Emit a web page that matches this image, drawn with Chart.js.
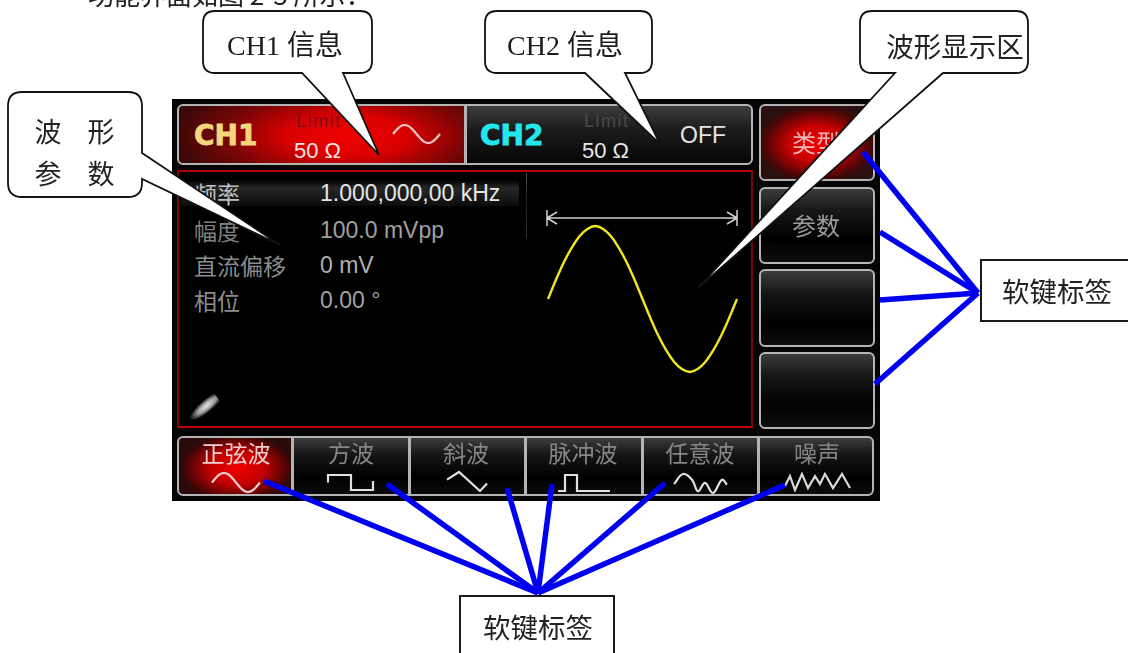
<!DOCTYPE html>
<html lang="zh-CN">
<head>
<meta charset="utf-8">
<title>功能界面</title>
<script src="https://cdn.jsdelivr.net/npm/chart.js@4"></script>
<style>
    html, body { margin: 0; padding: 0; background: #fff; }
    #page { position: relative; width: 1128px; height: 653px; overflow: hidden; background: #fff; }
    #page div, #page canvas, #page svg { position: absolute; }
    .text { white-space: pre; line-height: 1; transform: translate(0, -50%); }
    .center { transform: translate(-50%, -50%); }
    .cjk { font-family: "Noto Sans CJK SC", sans-serif; }
    .sans { font-family: "Liberation Sans", Arial, sans-serif; }
    .serif { font-family: "Liberation Serif", "Noto Sans CJK SC", serif; color: #1c1c1c; }
    #screen { left: 172px; top: 99px; width: 708px; height: 402px; background: #050505; filter: blur(0.7px); }
    .key { box-sizing: border-box; border: 2px solid #b4b4b4; border-radius: 6px;
           background: linear-gradient(180deg, #3c3c3c 0%, #161616 30%, #000 70%, #0c0c0c 100%); }
    .box { box-sizing: border-box; border: 2px solid #1a1a1a; background: #fff; }
</style>
</head>
<body>
<div id="page">
    <div id="screen"></div>
</div>
<script>
// 파형 데이터 (위상, mV)
const waveDegrees = [0, 15, 30, 45, 60, 75, 90, 105, 120, 135, 150, 165, 180, 195, 210, 225, 240, 255, 270, 285, 300, 315, 330, 345, 360];
const waveValues = [0, 13, 25, 35, 43, 48, 50, 48, 43, 35, 25, 13, 0, -13, -25, -35, -43, -48, -50, -48, -43, -35, -25, -13, 0];

// 화면 문자열
const paramLabels = ['频率', '幅度', '直流偏移', '相位'];
const paramValues = ['1.000,000,00 kHz', '100.0 mVpp', '0 mV', '0.00 °'];
const sideKeyLabels = ['类型', '参数', '', ''];
const bottomKeyLabels = ['正弦波', '方波', '斜波', '脉冲波', '任意波', '噪声'];

// 소프트키 아이콘 파형
const sineIconX = [0, 30, 60, 90, 120, 150, 180, 210, 240, 270, 300, 330, 360];
const sineIconY = [0, 50, 87, 100, 87, 50, 0, -50, -87, -100, -87, -50, 0];
const squareIconX = [0, 0, 23, 23, 45, 45];
const squareIconY = [0.5, 1, 1, 0, 0, 0.6];
const rampIconX = [0, 12, 33, 40];
const rampIconY = [0.6, 1, 0, 0.4];
const pulseIconX = [0, 7, 7, 19, 19, 52];
const pulseIconY = [0, 0, 1, 1, 0, 0];
const arbIconX = [0, 9, 18, 24, 31, 39, 48, 53];
const arbIconY = [0.47, 1, 0.7, 0.09, 0.53, 0, 0.7, 0.44];
const noiseIconX = [0, 5, 10, 17, 23, 30, 35, 40, 48, 57, 65];
const noiseIconY = [0.25, 0.87, 0, 1, 0.12, 0.87, 0.37, 1, 0.12, 1, 0.12];

const page = document.getElementById('page');
const screenEl = document.getElementById('screen');

// 페이지 좌표 기준으로 요소 추가 (screen 안에서는 원점 보정)
function addBlock(parent, className, x, y, w, h, background) {
    const el = document.createElement('div');
    const ox = parent === screenEl ? 172 : 0;
    const oy = parent === screenEl ? 99 : 0;
    el.className = className;
    el.style.left = (x - ox) + 'px';
    el.style.top = (y - oy) + 'px';
    el.style.width = w + 'px';
    el.style.height = h + 'px';
    if (background) {
        el.style.background = background;
    }
    parent.appendChild(el);
    return el;
}

function addText(parent, text, x, y, size, className, color, weight) {
    const el = document.createElement('div');
    const ox = parent === screenEl ? 172 : 0;
    const oy = parent === screenEl ? 99 : 0;
    el.className = 'text ' + className;
    el.textContent = text;
    el.style.left = (x - ox) + 'px';
    el.style.top = (y - oy) + 'px';
    el.style.fontSize = size + 'px';
    if (color) {
        el.style.color = color;
    }
    if (weight) {
        el.style.fontWeight = weight;
    }
    parent.appendChild(el);
    return el;
}

function addCanvas(parent, x, y, w, h) {
    const canvas = document.createElement('canvas');
    canvas.width = w;
    canvas.height = h;
    canvas.style.left = (x - 172) + 'px';
    canvas.style.top = (y - 99) + 'px';
    canvas.style.width = w + 'px';
    canvas.style.height = h + 'px';
    parent.appendChild(canvas);
    return canvas;
}

// 파형 차트 (축 숨김, 캔버스 전체가 플롯 영역)
function drawLineChart(canvas, xs, ys, bounds, color, width, tension) {
    return new Chart(canvas.getContext('2d'), {
        type: 'scatter',
        data: {
            datasets: [{
                data: xs.map((x, i) => ({ x: x, y: ys[i] })),
                showLine: true,
                borderColor: color,
                borderWidth: width,
                pointRadius: 0,
                tension: tension,
                clip: false
            }]
        },
        options: {
            responsive: false,
            animation: false,
            devicePixelRatio: 1,
            layout: { padding: 0 },
            plugins: { legend: { display: false }, tooltip: { enabled: false } },
            scales: {
                x: { type: 'linear', display: false, min: bounds[0], max: bounds[1] },
                y: { type: 'linear', display: false, min: bounds[2], max: bounds[3] }
            }
        }
    });
}

function drawIcon(x, y, w, h, xs, ys, color, tension) {
    const pad = 2;
    const canvas = addCanvas(screenEl, x - pad, y - pad, w + pad * 2, h + pad * 2);
    const minX = Math.min(...xs), maxX = Math.max(...xs);
    const minY = Math.min(...ys), maxY = Math.max(...ys);
    const padX = (maxX - minX) * pad / w;
    const padY = (maxY - minY) * pad / h;
    drawLineChart(canvas, xs, ys, [minX - padX, maxX + padX, minY - padY, maxY + padY], color, 2.2, tension);
}

// 상단 채널 표시줄
function buildHeader() {
    addBlock(screenEl, 'key', 177, 104, 289, 61,
        'radial-gradient(ellipse 175px 62px at 168px 30px, #f00000 0%, #d80000 35%, #7a0505 68%, #3a0808 100%)').style.borderRadius = '6px 0 0 6px';
    addBlock(screenEl, 'key', 465, 104, 288, 61,
        'linear-gradient(180deg, #3d3d3d 0%, #1c1c1c 40%, #060606 100%)').style.borderRadius = '0 6px 6px 0';
    const ch1 = addText(screenEl, 'CH1', 194, 136, 28, 'sans', '#f4d67c', 'bold');
    ch1.style.fontFamily = '"DejaVu Sans"';
    ch1.style.webkitTextStroke = '0.8px #f4d67c';
    const ch2 = addText(screenEl, 'CH2', 480, 136, 28, 'sans', '#22e8ee', 'bold');
    ch2.style.fontFamily = '"DejaVu Sans"';
    ch2.style.webkitTextStroke = '0.8px #22e8ee';
    addText(screenEl, 'Limit', 296, 121, 18, 'sans', '#7a0f1c').style.letterSpacing = '1.5px';
    addText(screenEl, 'Limit', 584, 121, 18, 'sans', '#4a4a4a').style.letterSpacing = '1.5px';
    addText(screenEl, '50 Ω', 294, 151, 22, 'sans', '#f5e4e4');
    addText(screenEl, '50 Ω', 582, 151, 22, 'sans', '#e6e6e6');
    addText(screenEl, 'OFF', 680, 135, 23, 'sans', '#e4e4e4');
    drawIcon(393, 125, 47, 18, sineIconX, sineIconY, '#eec4c4', 0.4);
}

// 파라미터와 파형 영역
function buildWavePanel() {
    const panel = addBlock(screenEl, '', 177, 170, 576, 258, '#000');
    panel.style.boxSizing = 'border-box';
    panel.style.border = '2px solid #7a0505';
    panel.style.borderTopColor = '#b00000';
    panel.style.borderBottomColor = '#c40000';
    addBlock(screenEl, '', 181, 180, 338, 26, 'linear-gradient(180deg, #000 0%, #262626 30%, #0c0c0c 100%)');
    addBlock(screenEl, '', 526, 173, 1, 66, 'linear-gradient(180deg, #555 0%, #222 40%, #333 100%)');

    const rowY = [193, 230, 265, 300];
    const labelColors = ['#c0c0c0', '#808080', '#8c8c8c', '#8c8c8c'];
    const valueColors = ['#e6e6e6', '#a0a0a0', '#b0b0b0', '#a0a0a0'];
    paramLabels.forEach((label, i) => {
        addText(screenEl, label, 194, rowY[i], 23, 'cjk', labelColors[i]);
        addText(screenEl, paramValues[i], 320, rowY[i], 23, 'sans', valueColors[i]);
    });

    // USB 표시 자국
    const smudge = addBlock(screenEl, '', 187, 402, 34, 12,
        'radial-gradient(ellipse at 60% 50%, #e8e8e8 0%, #9a9a9a 40%, rgba(60,60,60,0) 75%)');
    smudge.style.transform = 'rotate(-40deg)';

    // 파형 폭 표시
    const ns = 'http://www.w3.org/2000/svg';
    const svg = document.createElementNS(ns, 'svg');
    svg.setAttribute('width', '708');
    svg.setAttribute('height', '402');
    svg.style.left = '0';
    svg.style.top = '0';
    const bracket = document.createElementNS(ns, 'path');
    bracket.setAttribute('d', 'M375,111 V127 M375,119 H565 M565,111 V127 M375,119 L385,113 M375,119 L385,125 M565,119 L555,113 M565,119 L555,125');
    bracket.setAttribute('stroke', '#cfcfcf');
    bracket.setAttribute('stroke-width', '1.5');
    bracket.setAttribute('fill', 'none');
    svg.appendChild(bracket);
    screenEl.appendChild(svg);

    // x: 0.525 px/deg, y: 1.46 px/mV
    const canvas = addCanvas(screenEl, 527, 216, 231, 166);
    drawLineChart(canvas, waveDegrees, waveValues, [-40, 400, -56.85, 56.85], '#f2e61e', 2.4, 0.4);
}

// 오른쪽 소프트키
function buildSideKeys() {
    const tops = [104, 187, 269, 352];
    const heights = [77, 77, 78, 77];
    tops.forEach((top, i) => {
        const key = addBlock(screenEl, 'key', 759, top, 116, heights[i]);
        if (i === 0) {
            key.style.background = 'radial-gradient(ellipse 62px 40px at 56px 38px, #f00000 0%, #c80000 45%, #4a0606 85%, #2a1010 100%)';
        }
        if (sideKeyLabels[i]) {
            addText(screenEl, sideKeyLabels[i], 816, top + 38, 24, 'cjk center', i === 0 ? '#f4b4b4' : '#9c9c9c');
        }
    });
}

// 아래쪽 소프트키
function buildBottomKeys() {
    const edges = [177, 292, 409, 525, 642, 758, 873];
    bottomKeyLabels.forEach((label, i) => {
        const key = addBlock(screenEl, 'key', edges[i], 436, edges[i + 1] - edges[i] + 1, 60);
        key.style.borderRadius = i === 0 ? '6px 0 0 6px' : (i === 5 ? '0 6px 6px 0' : '0');
        if (i === 0) {
            key.style.background = 'radial-gradient(ellipse 56px 34px at 58px 30px, #f20000 0%, #c00000 50%, #4a0505 90%, #2a0a0a 100%)';
        }
        const center = [236, 351, 466, 583, 700, 817][i];
        addText(screenEl, label, center, 452, 23, 'cjk center', i === 0 ? '#f0d0d0' : '#868686');
    });
    drawIcon(212, 473, 48, 19, sineIconX, sineIconY, '#f4cccc', 0.4);
    drawIcon(328, 475, 45, 15, squareIconX, squareIconY, '#e0e0e0', 0);
    drawIcon(447, 472, 40, 19, rampIconX, rampIconY, '#e0e0e0', 0);
    drawIcon(558, 475, 52, 16, pulseIconX, pulseIconY, '#e0e0e0', 0);
    drawIcon(674, 474, 53, 19, arbIconX, arbIconY, '#e0e0e0', 0.4);
    drawIcon(785, 474, 65, 16, noiseIconX, noiseIconY, '#d8d8d8', 0);
}

// 파란 지시선과 말풍선
function buildCallouts() {
    const ns = 'http://www.w3.org/2000/svg';
    const svg = document.createElementNS(ns, 'svg');
    svg.setAttribute('width', '1128');
    svg.setAttribute('height', '653');
    svg.style.left = '0';
    svg.style.top = '0';

    const bottomLeaders = [[264, 481], [387, 484], [507, 488], [552, 484], [665, 483], [785, 485]];
    const sideLeaders = [[863, 152], [880, 232], [880, 300], [875, 384]];
    const addLeader = (from, apex) => {
        const line = document.createElementNS(ns, 'line');
        line.setAttribute('x1', from[0]);
        line.setAttribute('y1', from[1]);
        line.setAttribute('x2', apex[0]);
        line.setAttribute('y2', apex[1]);
        line.setAttribute('stroke', '#0000f0');
        line.setAttribute('stroke-width', '5.5');
        svg.appendChild(line);
    };
    bottomLeaders.forEach(from => addLeader(from, [538, 593]));
    sideLeaders.forEach(from => addLeader(from, [978, 293]));

    const bubbles = [
        'M215,11 H360 Q372,11 372,23 V61 Q372,73 360,73 H343 L379,155 L302,73 H215 Q203,73 203,61 V23 Q203,11 215,11 Z',
        'M497,11 H640 Q652,11 652,23 V61 Q652,73 640,73 H625 L660,144 L585,73 H497 Q485,73 485,61 V23 Q485,11 497,11 Z',
        'M872,11 H1016 Q1028,11 1028,23 V61 Q1028,73 1016,73 H943 L698,288 L895,73 H872 Q860,73 860,61 V23 Q860,11 872,11 Z',
        'M22,92 H128 Q142,92 142,106 V153 L280,245 L142,179 V183 Q142,197 128,197 H22 Q8,197 8,183 V106 Q8,92 22,92 Z'
    ];
    bubbles.forEach(d => {
        const path = document.createElementNS(ns, 'path');
        path.setAttribute('d', d);
        path.setAttribute('fill', '#fff');
        path.setAttribute('stroke', '#111');
        path.setAttribute('stroke-width', '1.8');
        svg.appendChild(path);
    });
    page.appendChild(svg);

    addBlock(page, 'box', 980, 259, 170, 63);
    addBlock(page, 'box', 459, 595, 156, 80);

    addText(page, 'CH1 信息', 285, 46, 28, 'serif center');
    addText(page, 'CH2 信息', 565, 46, 28, 'serif center');
    addText(page, '波形显示区', 955, 46, 27.5, 'cjk center', '#222');
    addText(page, '波', 48, 130, 27, 'cjk center', '#222');
    addText(page, '形', 101, 130, 27, 'cjk center', '#222');
    addText(page, '参', 48, 172, 27, 'cjk center', '#222');
    addText(page, '数', 101, 172, 27, 'cjk center', '#222');
    addText(page, '软键标签', 1057, 291, 27.5, 'cjk center', '#222');
    addText(page, '软键标签', 538, 627, 27.5, 'cjk center', '#222');
    addText(page, '功能界面如图 2-3 所示：', 88, -6, 26, 'cjk', '#222');
}

function init() {
    buildHeader();
    buildWavePanel();
    buildSideKeys();
    buildBottomKeys();
    buildCallouts();
}

document.addEventListener('DOMContentLoaded', init);
</script>
</body>
</html>
